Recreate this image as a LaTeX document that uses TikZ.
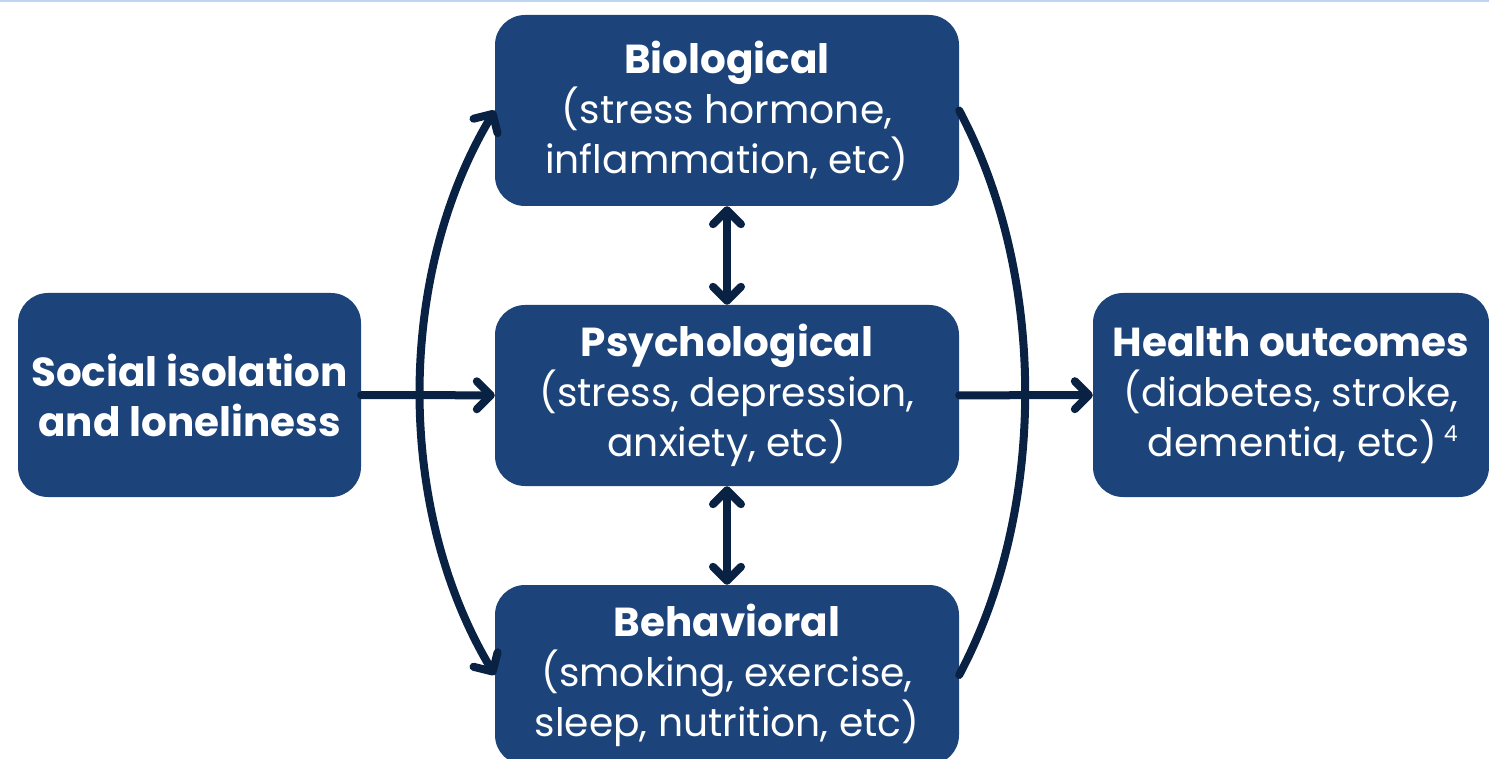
\documentclass[tikz,border=0pt]{standalone}
\usepackage{fontspec}
\setmainfont{Poppins}
\usetikzlibrary{arrows.meta}
\definecolor{boxblue}{RGB}{28,67,122}
\definecolor{arrowblue}{RGB}{9,34,68}
\definecolor{topline}{RGB}{189,215,242}
\newcommand{\hd}[1]{{\fontsize{40.5}{50}\selectfont\bfseries #1}}
\tikzset{
  box/.style={fill=boxblue, rounded corners=30pt, text=white, align=center, inner sep=0pt,
    font=\fontsize{39.2}{50}\selectfont},
  conn/.style={draw=arrowblue, line width=8pt, line cap=round},
  barb/.tip={Straight Barb[length=14pt,width=28pt,round]},
  tipped/.style={conn, -barb},
  twotip/.style={conn, barb-barb},
}
\begin{document}
\begin{tikzpicture}[x=1pt,y=-1pt]
\useasboundingbox (0,0) rectangle (1489,759);
\clip (0,0) rectangle (1489,759);
\draw[topline, line width=2pt] (0,1) -- (1489,1);
\node[box, minimum width=464pt, minimum height=191pt] (bio) at (727,110.5)
  {\hd{Biological}\\(stress hormone,\\inflammation, etc)};
\node[box, minimum width=464pt, minimum height=181pt] (psych) at (727,395.5)
  {\hd{Psychological}\\(stress, depression,\\anxiety, etc)};
\node[box, minimum width=464pt, minimum height=180pt] (behav) at (727,675)
  {\hd{Behavioral}\\(smoking, exercise,\\sleep, nutrition, etc)};
\node[box, minimum width=343pt, minimum height=204pt] (social) at (189.5,395)
  {\hd{Social isolation}\\\hd{and loneliness}};
\node[box, minimum width=396pt, minimum height=204pt] (health) at (1291,395)
  {\hd{Health outcomes}\\(diabetes, stroke,\\\hspace*{0.6em}dementia, etc)\,\raisebox{0.7ex}{\fontsize{22}{24}\selectfont 4}};
\draw[tipped] (social) -- (psych);
\draw[tipped] (psych) -- (health);
\draw[twotip] (bio) -- (psych);
\draw[twotip] (psych) -- (behav);
\draw[twotip] (bio.west) .. controls +(-99,165) and +(-99,-165) .. (behav.west);
\draw[conn] (bio.east) .. controls +(88,165) and +(88,-165) .. (behav.east);
\end{tikzpicture}
\end{document}
